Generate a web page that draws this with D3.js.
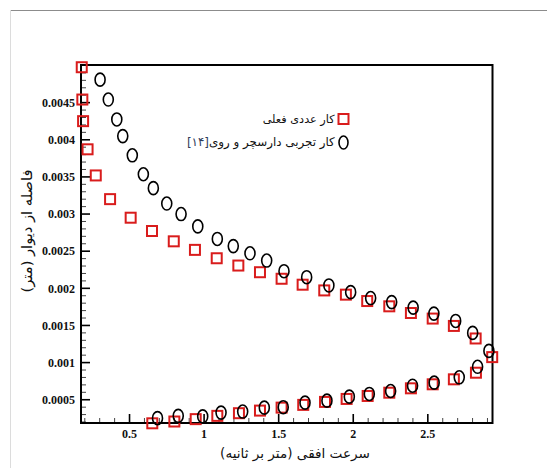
<!DOCTYPE html>
<html>
<head>
<meta charset="utf-8">
<script src="https://cdn.jsdelivr.net/npm/d3@7"></script>
<style>
  html, body { margin: 0; padding: 0; background: #fff; }
  svg { display: block; }
  .tick text { font-family: "Liberation Serif", "Times New Roman", serif; font-weight: bold; font-size: 12px; fill: #111; }
  .fa { font-family: "DejaVu Sans", sans-serif; fill: #111; }
</style>
</head>
<body>
<svg id="chart" width="547" height="468"></svg>
<script>
// Numerical results (current work): upper and lower branches
const numUpperX = [0.183, 0.187, 0.192, 0.222, 0.277, 0.373, 0.511, 0.654, 0.800, 0.942, 1.088, 1.233, 1.378, 1.523, 1.664, 1.809, 1.954, 2.097, 2.245, 2.390, 2.536, 2.678, 2.824, 2.935];
const numUpperY = [0.00497, 0.004535, 0.004244, 0.003865, 0.003513, 0.003194, 0.002944, 0.002765, 0.002626, 0.002511, 0.002398, 0.0023, 0.00221, 0.002122, 0.002042, 0.001965, 0.001908, 0.001822, 0.001751, 0.001661, 0.001586, 0.001487, 0.001318, 0.001067];
const numLowerX = [0.656, 0.804, 0.947, 1.092, 1.237, 1.378, 1.523, 1.668, 1.814, 1.959, 2.100, 2.245, 2.390, 2.536, 2.678, 2.826];
const numLowerY = [0.000176, 0.0002, 0.000232, 0.000276, 0.000312, 0.000347, 0.000387, 0.000424, 0.000464, 0.000504, 0.000544, 0.000588, 0.000647, 0.000701, 0.000768, 0.000857];

// Experimental data of Darcy & Roy [14]
const expUpperX = [0.306, 0.361, 0.418, 0.458, 0.522, 0.596, 0.663, 0.753, 0.849, 0.961, 1.092, 1.199, 1.311, 1.423, 1.539, 1.691, 1.840, 1.986, 2.120, 2.261, 2.405, 2.544, 2.690, 2.804, 2.913];
const expUpperY = [0.004803, 0.004535, 0.004267, 0.004043, 0.003784, 0.003529, 0.003342, 0.003135, 0.002993, 0.002827, 0.002658, 0.002562, 0.002465, 0.002367, 0.002224, 0.002143, 0.002032, 0.001942, 0.001862, 0.001808, 0.001733, 0.001653, 0.001554, 0.001393, 0.001151];
const expLowerX = [0.691, 0.830, 0.994, 1.117, 1.262, 1.407, 1.534, 1.680, 1.827, 1.977, 2.111, 2.254, 2.401, 2.546, 2.714, 2.837];
const expLowerY = [0.000245, 0.000276, 0.000269, 0.00032, 0.000334, 0.000387, 0.000393, 0.000454, 0.000481, 0.000535, 0.000571, 0.000611, 0.000682, 0.000723, 0.000795, 0.000937];

const xTicks = [0.5, 1, 1.5, 2, 2.5];
const xTickLabels = ["0.5", "1", "1.5", "2", "2.5"];
const yTicks = [0.0005, 0.001, 0.0015, 0.002, 0.0025, 0.003, 0.0035, 0.004, 0.0045];
const yTickLabels = ["0.0005", "0.001", "0.0015", "0.002", "0.0025", "0.003", "0.0035", "0.004", "0.0045"];

const legendNum = "کار عددی فعلی";
const legendExp = "کار تجربی دارسچر و روی";
const legendRef = "[۱۴]";
const xTitle = "سرعت افقی (متر بر ثانیه)";
const yTitle = "فاصله از دیوار (متر)";

const svg = d3.select("#chart");
const plot = { left: 81, right: 492.5, top: 65, bottom: 423 };

const x = d3.scaleLinear().domain([0.178, 2.937]).range([plot.left, plot.right]);
const y = d3.scaleLinear().domain([0.00018, 0.005]).range([plot.bottom, plot.top]);

// page frame lines
svg.append("line").attr("x1", 10).attr("x2", 547).attr("y1", 10.5).attr("y2", 10.5)
  .attr("stroke", "#8c8c8c").attr("stroke-width", 1);
svg.append("line").attr("x1", 10.5).attr("x2", 10.5).attr("y1", 10).attr("y2", 468)
  .attr("stroke", "#dcdcdc").attr("stroke-width", 1);

// minor ticks
const xMinor = d3.range(2, 30).map(i => i / 10).filter(v => !xTicks.some(t => Math.abs(t - v) < 1e-9));
const yMinor = d3.range(2, 50).map(i => i / 10000).filter(v => !yTicks.some(t => Math.abs(t - v) < 1e-12));

svg.append("g").attr("transform", `translate(0,${plot.bottom})`)
  .call(d3.axisBottom(x).tickValues(xMinor).tickSize(-5).tickFormat(""))
  .call(g => g.select(".domain").remove())
  .call(g => g.selectAll("line").attr("stroke", "#444").attr("stroke-width", 1));
svg.append("g").attr("transform", `translate(${plot.left},0)`)
  .call(d3.axisLeft(y).tickValues(yMinor).tickSize(-5).tickFormat(""))
  .call(g => g.select(".domain").remove())
  .call(g => g.selectAll("line").attr("stroke", "#444").attr("stroke-width", 1));

// major ticks with labels
svg.append("g").attr("transform", `translate(0,${plot.bottom})`)
  .call(d3.axisBottom(x).tickValues(xTicks).tickSize(-9).tickPadding(6)
    .tickFormat((d, i) => xTickLabels[i]))
  .call(g => g.select(".domain").remove())
  .call(g => g.selectAll("line").attr("stroke", "#000").attr("stroke-width", 1.6));
svg.append("g").attr("transform", `translate(${plot.left},0)`)
  .call(d3.axisLeft(y).tickValues(yTicks).tickSize(-9).tickPadding(6)
    .tickFormat((d, i) => yTickLabels[i]))
  .call(g => g.select(".domain").remove())
  .call(g => g.selectAll("line").attr("stroke", "#000").attr("stroke-width", 1.6))
  .call(g => g.selectAll("text").attr("dy", "0.35em"));

// plot frame
svg.append("rect")
  .attr("x", plot.left).attr("y", plot.top)
  .attr("width", plot.right - plot.left).attr("height", plot.bottom - plot.top)
  .attr("fill", "none").attr("stroke", "#000").attr("stroke-width", 2);

// markers
const red = "#d91c1c";
const sq = 10;
const numPts = numUpperX.map((v, i) => [v, numUpperY[i]])
  .concat(numLowerX.map((v, i) => [v, numLowerY[i]]));
const expPts = expUpperX.map((v, i) => [v, expUpperY[i]])
  .concat(expLowerX.map((v, i) => [v, expLowerY[i]]));

svg.append("g").selectAll("rect").data(numPts).join("rect")
  .attr("x", d => x(d[0]) - sq / 2).attr("y", d => y(d[1]) - sq / 2)
  .attr("width", sq).attr("height", sq)
  .attr("fill", "none").attr("stroke", red).attr("stroke-width", 2);

svg.append("g").selectAll("ellipse").data(expPts).join("ellipse")
  .attr("cx", d => x(d[0])).attr("cy", d => y(d[1]))
  .attr("rx", 5).attr("ry", 6.5)
  .attr("fill", "none").attr("stroke", "#000").attr("stroke-width", 1.6);

// Scale a text element so its extent along its own baseline spans `span` px,
// then shift it so the centre of that extent sits at (cx) along the baseline.
function fitText(sel, span, cx) {
  const node = sel.node();
  const fs = parseFloat(sel.attr("font-size"));
  const w = node.getComputedTextLength();
  sel.attr("font-size", (fs * span / w).toFixed(2));
  const b = node.getBBox();
  const cur = b.x + b.width / 2;
  sel.attr("x", parseFloat(sel.attr("x")) + (cx - cur));
}

// legend
const legend = svg.append("g");
legend.append("rect").attr("x", 338.5).attr("y", 114).attr("width", 10).attr("height", 10)
  .attr("fill", "none").attr("stroke", red).attr("stroke-width", 2);
legend.append("ellipse").attr("cx", 343.5).attr("cy", 142.5).attr("rx", 4.5).attr("ry", 6.5)
  .attr("fill", "none").attr("stroke", "#000").attr("stroke-width", 1.6);
const t1 = legend.append("text").attr("class", "fa")
  .attr("x", 300).attr("y", 123).attr("direction", "rtl").attr("text-anchor", "middle")
  .attr("font-size", 13).text(legendNum);
fitText(t1, 72, 299);
const t2 = legend.append("text").attr("class", "fa")
  .attr("x", 260).attr("y", 146).attr("direction", "rtl").attr("text-anchor", "middle")
  .attr("font-size", 13);
t2.append("tspan").text(legendExp);
t2.append("tspan").attr("fill", "#2f3d5c").text(legendRef);
fitText(t2, 148, 261);

// axis titles
const xt = svg.append("text").attr("class", "fa")
  .attr("x", 295).attr("y", 458).attr("direction", "rtl").attr("text-anchor", "middle")
  .attr("font-size", 14).text(xTitle);
fitText(xt, 150, 295);
const yt = svg.append("text").attr("class", "fa")
  .attr("x", -231).attr("y", 32).attr("transform", "rotate(-90)")
  .attr("direction", "rtl").attr("text-anchor", "middle")
  .attr("font-size", 14).text(yTitle);
fitText(yt, 123, -231);
</script>
</body>
</html>
